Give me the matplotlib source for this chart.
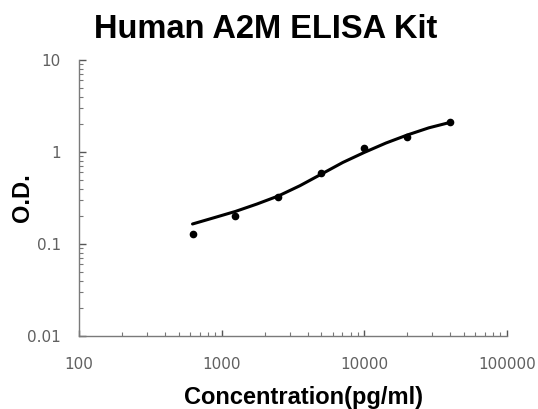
import matplotlib
matplotlib.use("Agg")
import matplotlib.pyplot as plt
from matplotlib.ticker import LogLocator, FixedLocator, NullFormatter

# standard points (pg/ml, O.D.)
conc = [625, 1250, 2500, 5000, 10000, 20000, 40000]
od = [0.128, 0.201, 0.327, 0.586, 1.114, 1.445, 2.10]

# fitted curve
curve_x = [625, 884, 1250, 1768, 2500, 3536, 5000, 7071, 10000, 14142, 20000, 28284, 40000]
curve_y = [0.165, 0.193, 0.226, 0.272, 0.333, 0.430, 0.575, 0.770, 0.99, 1.25, 1.53, 1.83, 2.10]

title = "Human A2M ELISA Kit"
xlabel = "Concentration(pg/ml)"
ylabel = "O.D."
xticks = [100, 1000, 10000, 100000]
yticks = [0.01, 0.1, 1, 10]

fig = plt.figure(figsize=(5.38, 4.09), dpi=100)
ax = fig.add_axes([0.1468, 0.1785, 0.7956, 0.6748])

ax.plot(curve_x, curve_y, "-", color="black", lw=2.2, solid_capstyle="round")
ax.plot(conc, od, "o", color="black", ms=4.5)

ax.set_xscale("log")
ax.set_yscale("log")
ax.set_xlim(100, 100000)
ax.set_ylim(0.01, 10)

ax.xaxis.set_major_locator(FixedLocator(xticks))
ax.yaxis.set_major_locator(FixedLocator(yticks))
ax.set_xticklabels([str(v) for v in xticks])
ax.set_yticklabels(["0.01", "0.1", "1", "10"])
ax.xaxis.set_minor_locator(LogLocator(base=10, subs=range(2, 10)))
ax.yaxis.set_minor_locator(LogLocator(base=10, subs=range(2, 10)))
ax.xaxis.set_minor_formatter(NullFormatter())
ax.yaxis.set_minor_formatter(NullFormatter())

for s in ("top", "right"):
    ax.spines[s].set_visible(False)
for s in ("left", "bottom"):
    ax.spines[s].set_color("#7a7a7a")
    ax.spines[s].set_linewidth(1.0)

ax.tick_params(axis="x", which="major", direction="in", length=4, width=1,
               color="#555555", pad=15, labelsize=11, labelcolor="#606060")
ax.tick_params(axis="y", which="major", direction="in", length=5, width=1,
               color="#555555", pad=13, labelsize=11, labelcolor="#606060")
ax.tick_params(which="minor", direction="in", length=3, width=0.8, color="#777777")

fig.text(0.493, 0.906, title, ha="center", va="baseline", fontsize=23.5,
         fontweight="bold", family="Liberation Sans")
fig.text(0.565, 0.013, xlabel, ha="center", va="baseline", fontsize=17,
         fontweight="bold", family="Liberation Sans")
fig.text(0.041, 0.518, ylabel, ha="center", va="center", rotation=90, fontsize=17,
         fontweight="bold", family="Liberation Sans")

fig.savefig("out.png", dpi=100)
